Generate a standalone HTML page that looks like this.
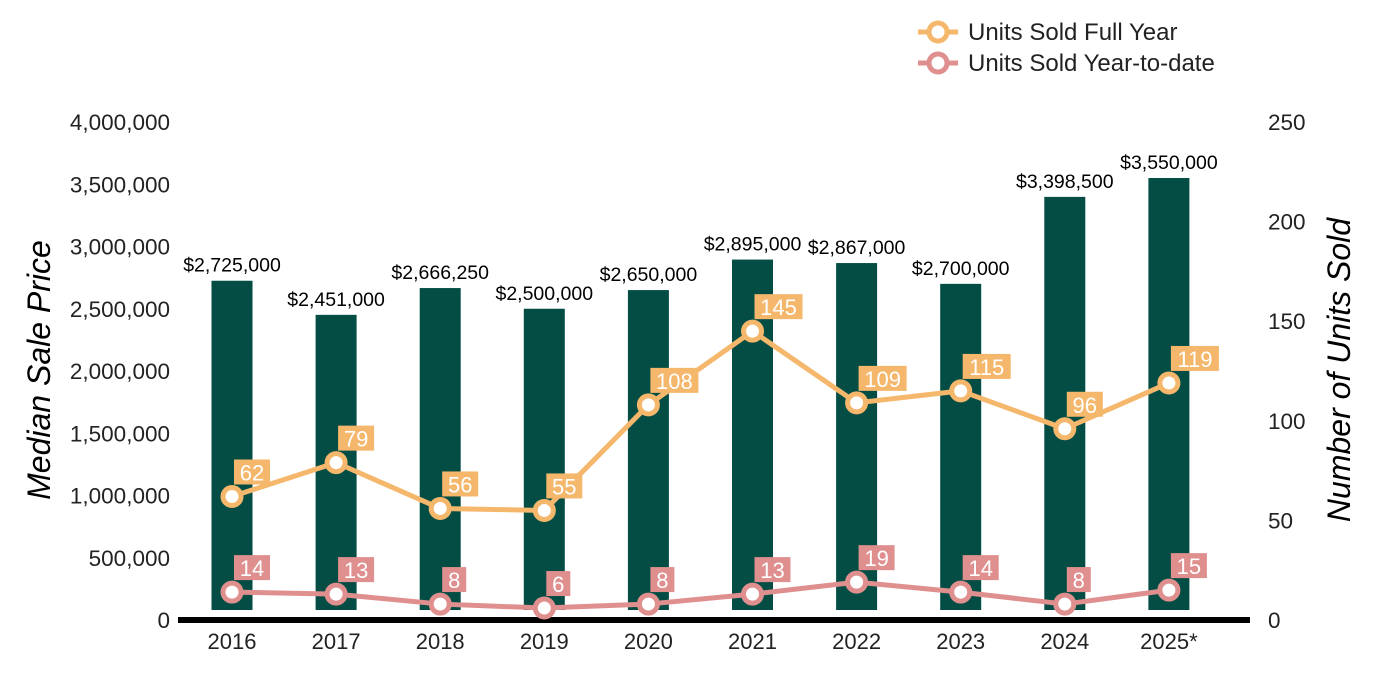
<!DOCTYPE html>
<html><head><meta charset="utf-8"><style>
body{margin:0;background:#fff;}
svg{display:block;font-family:"Liberation Sans",Arial,sans-serif;}
</style></head><body>
<svg id="chart" width="1400" height="700" viewBox="0 0 1400 700">
<g id="leg">
 <g>
  <line x1="918" y1="32" x2="958" y2="32" stroke="#f5b76b" stroke-width="5"/>
  <circle cx="938" cy="32" r="9" fill="#fff" stroke="#f5b76b" stroke-width="5"/>
  <text x="968" y="40" font-size="24" fill="#222">Units Sold Full Year</text>
 </g>
 <g>
  <line x1="918" y1="63" x2="958" y2="63" stroke="#e08f8f" stroke-width="5"/>
  <circle cx="938" cy="63" r="9" fill="#fff" stroke="#e08f8f" stroke-width="5"/>
  <text x="968" y="71" font-size="24" fill="#222">Units Sold Year-to-date</text>
 </g>
</g>
<text x="50" y="370" font-size="32" font-style="italic" transform="rotate(-90 50 370)" text-anchor="middle" fill="#000">Median Sale Price</text>
<text x="1350" y="370" font-size="32" font-style="italic" transform="rotate(-90 1350 370)" text-anchor="middle" fill="#000">Number of Units Sold</text>
<g id="plot"></g>
</svg>
<script>
const categories=["2016","2017","2018","2019","2020","2021","2022","2023","2024","2025*"];
const prices=[2725000,2451000,2666250,2500000,2650000,2895000,2867000,2700000,3398500,3550000];
const priceLabels=["$2,725,000","$2,451,000","$2,666,250","$2,500,000","$2,650,000","$2,895,000","$2,867,000","$2,700,000","$3,398,500","$3,550,000"];
const unitsFull=[62,79,56,55,108,145,109,115,96,119];
const unitsYtd=[14,13,8,6,8,13,19,14,8,15];
const leftTicks=[0,500000,1000000,1500000,2000000,2500000,3000000,3500000,4000000];
const rightTicks=[0,50,100,150,200,250];
const NS="http://www.w3.org/2000/svg";
const g=document.getElementById('plot');
const yL=v=>620-v/4000000*498;
const yR=v=>620-v/250*498;
const xC=i=>232+i*104.1;
function el(t,a,txt){const e=document.createElementNS(NS,t);for(const k in a)e.setAttribute(k,a[k]);if(txt!==undefined)e.textContent=txt;g.appendChild(e);return e;}
leftTicks.forEach(v=>{const t=el('text',{x:170,y:yL(v)+8,'font-size':22.5,'text-anchor':'end',fill:'#222'},v.toLocaleString('en-US'));

});
rightTicks.forEach(v=>{const t=el('text',{x:1268,y:yR(v)+8,'font-size':22.5,fill:'#222'},String(v));

});
prices.forEach((p,i)=>{const b=el('rect',{x:xC(i)-20.5,y:yL(p),width:41,height:Math.max(0,610-yL(p)),fill:'#034d45'});


const t=el('text',{x:xC(i),y:yL(p)-9,'font-size':19.5,'text-anchor':'middle',fill:'#000'},priceLabels[i]);

});
const ax=el('line',{x1:178,y1:620,x2:1250,y2:620,stroke:'#000','stroke-width':6});


categories.forEach((c,i)=>{const t=el('text',{x:xC(i),y:649,'font-size':22,'text-anchor':'middle',fill:'#222'},c);

});
function series(vals,color,name){
 const pl=el('polyline',{points:vals.map((v,i)=>xC(i)+','+yR(v)).join(' '),fill:'none',stroke:color,'stroke-width':5,'stroke-linejoin':'round'});
 
 
 vals.forEach((v,i)=>{
  const c=el('circle',{cx:xC(i),cy:yR(v),r:9,fill:'#fff',stroke:color,'stroke-width':5});
  
  
  const s=String(v);const w=s.length*12+12;
  const r=el('rect',{x:xC(i)+2,y:yR(v)-37,width:w,height:25,fill:color});
  
  
  const t=el('text',{x:xC(i)+2+w/2,y:yR(v)-16,'font-size':22,'text-anchor':'middle',fill:'#fff'},s);
  
  
 });
}
series(unitsFull,'#f5b76b','units-full-year');
series(unitsYtd,'#e08f8f','units-ytd');
</script>
</body></html>
